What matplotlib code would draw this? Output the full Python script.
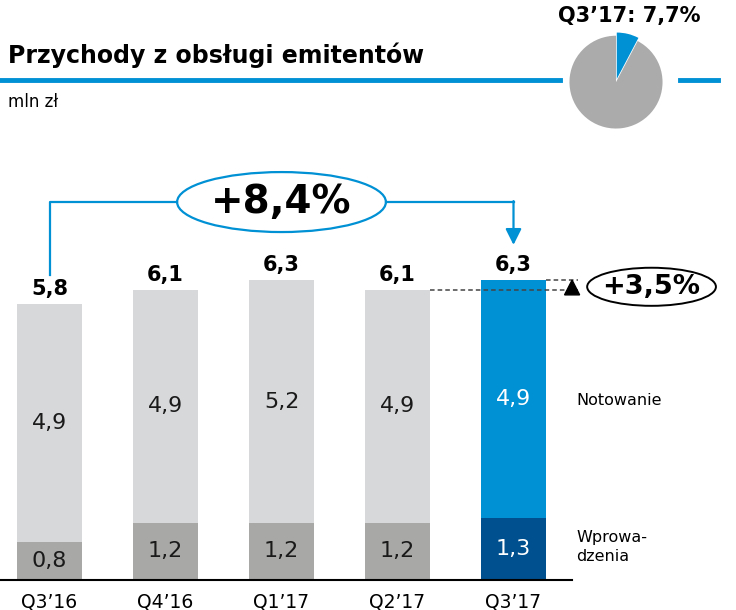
import matplotlib.pyplot as plt
from matplotlib.patches import Ellipse, Polygon


# =====================================================
# DATA
# =====================================================

quarters = ["Q3\u201916", "Q4\u201916", "Q1\u201917", "Q2\u201917", "Q3\u201917"]

totals = [5.8, 6.1, 6.3, 6.1, 6.3]

notowanie = [4.9, 4.9, 5.2, 4.9, 4.9]

wprowadzenia = [0.8, 1.2, 1.2, 1.2, 1.3]

yoy_change = "+8,4%"
qoq_change = "+3,5%"

pie_share = [7.7, 92.3]
pie_label = "Q3\u201917: 7,7%"


def fmt(v):
    return f"{v:.1f}".replace(".", ",")


# =====================================================
# COLOURS
# =====================================================

blue = "#0090D4"
dark_blue = "#00508F"
light_gray = "#D7D8DA"
dark_gray = "#A8A8A6"

plt.rcParams["font.family"] = ["DejaVu Sans"]

W, H = 736, 610

fig = plt.figure(
    figsize=(W / 100, H / 100),
    dpi=100
)

# =====================================================
# HEADER
# =====================================================

fig.text(
    8 / W, 1 - 55 / H,
    "Przychody z obsługi emitentów",
    fontsize=17,
    fontweight="bold",
    va="center",
    ha="left"
)

fig.add_artist(plt.Line2D([0, 560 / W], [1 - 80 / H, 1 - 80 / H], color=blue, lw=3.5))
fig.add_artist(plt.Line2D([680 / W, 718 / W], [1 - 80 / H, 1 - 80 / H], color=blue, lw=3.5))

fig.text(
    8 / W, 1 - 102 / H,
    "mln zł",
    fontsize=12,
    va="center",
    ha="left"
)

fig.text(
    629 / W, 1 - 16 / H,
    pie_label,
    fontsize=15,
    fontweight="bold",
    va="center",
    ha="center"
)

pie_ax = fig.add_axes([569 / W, 1 - 129 / H, 94 / W, 97 / H])

pie_ax.pie(
    pie_share,
    colors=[blue, "#ABABAB"],
    startangle=90,
    counterclock=False,
    explode=[0.07, 0]
)

pie_ax.set_aspect("auto")
pie_ax.set_xlim(-1.01, 1.01)
pie_ax.set_ylim(-1.01, 1.08)

# =====================================================
# BARS
# =====================================================

ax = fig.add_axes([0, 30 / H, 572 / W, 476 / H])

x = list(range(len(quarters)))

top_part = [t - b for t, b in zip(totals, wprowadzenia)]

bottom_colors = [dark_gray] * 4 + [dark_blue]
top_colors = [light_gray] * 4 + [blue]

ax.bar(x, wprowadzenia, width=0.56, color=bottom_colors, zorder=2)

ax.bar(x, top_part, bottom=wprowadzenia, width=0.56, color=top_colors, zorder=2)

for i in x:

    label_color = "white" if i == 4 else "#1a1a1a"

    ax.text(
        i, wprowadzenia[i] / 2, fmt(wprowadzenia[i]),
        ha="center", va="center", fontsize=16, color=label_color, zorder=3
    )

    ax.text(
        i, (wprowadzenia[i] + totals[i]) / 2, fmt(notowanie[i]),
        ha="center", va="center", fontsize=16, color=label_color, zorder=3
    )

    ax.text(
        i, totals[i] + 0.1, fmt(totals[i]),
        ha="center", va="bottom", fontsize=15, fontweight="bold", zorder=3
    )

ax.set_xlim(-49.5 / 116, (572 - 49.5) / 116)
ax.set_ylim(0, 10)

ax.set_xticks(x)
ax.set_xticklabels(quarters, fontsize=13.5)
ax.tick_params(axis="x", length=0, pad=9)
ax.set_yticks([])

for side in ["left", "right", "top"]:
    ax.spines[side].set_visible(False)

ax.spines["bottom"].set_linewidth(1.5)

# =====================================================
# YEAR ON YEAR BRACKET
# =====================================================

bracket_y = 7.94

ax.plot([0, 0, 1.1], [totals[0] + 0.6, bracket_y, bracket_y], color=blue, lw=1.6, clip_on=False)
ax.plot([2.9, 4], [bracket_y, bracket_y], color=blue, lw=1.6, clip_on=False)

ax.annotate(
    "",
    xy=(4, 7.04),
    xytext=(4, bracket_y + 0.02),
    arrowprops=dict(arrowstyle="-|>", color=blue, lw=1.6, mutation_scale=24, shrinkA=0, shrinkB=0),
    annotation_clip=False
)

ax.add_patch(Ellipse((2, bracket_y), 1.8, 1.26, facecolor="white", edgecolor=blue, lw=1.6, clip_on=False))

ax.text(2, bracket_y, yoy_change, ha="center", va="center", fontsize=28, fontweight="bold")

# =====================================================
# QUARTER ON QUARTER
# =====================================================

ax.plot([3.28, 4.56], [totals[3], totals[3]], color="#444444", lw=1.1, ls=(0, (3, 2)), zorder=4, clip_on=False)
ax.plot([4.28, 4.56], [totals[4], totals[4]], color="#444444", lw=1.1, ls=(0, (3, 2)), zorder=4, clip_on=False)

ax.add_patch(Polygon(
    [[4.44, 5.99], [4.57, 5.99], [4.505, totals[4]]],
    closed=True, color="black", zorder=5, clip_on=False
))

ax.add_patch(Ellipse((5.19, 6.16), 1.11, 0.8, facecolor="white", edgecolor="black", lw=1.4, clip_on=False))

ax.text(5.19, 6.16, qoq_change, ha="center", va="center", fontsize=19.5, fontweight="bold", clip_on=False)

# =====================================================
# SERIES LABELS
# =====================================================

ax.text(4.54, 3.78, "Notowanie", ha="left", va="center", fontsize=11.5, clip_on=False)

ax.text(4.54, 0.69, "Wprowa-\ndzenia", ha="left", va="center", fontsize=11.5, linespacing=1.35, clip_on=False)

plt.savefig("out.png", dpi=100)

plt.close()
